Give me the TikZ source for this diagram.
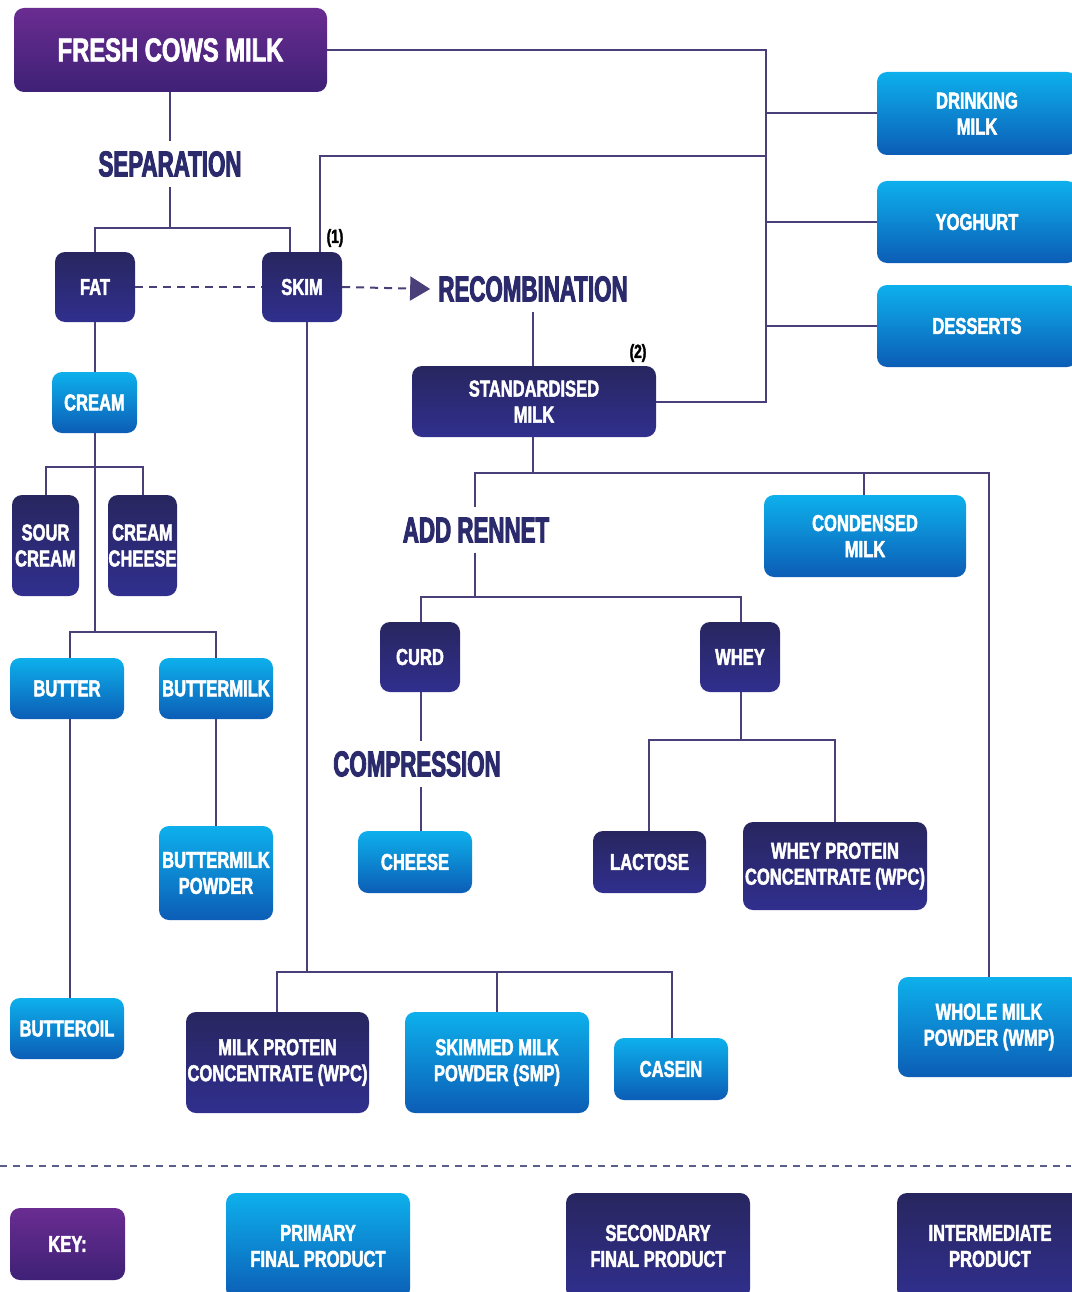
\documentclass[tikz,border=0pt]{standalone}
\usepackage{fontspec}
\usetikzlibrary{arrows.meta}
\newfontfamily\boxfam{Liberation Sans Bold}[FakeStretch=0.72, FakeBold=2]
\newfontfamily\lblfam{Liberation Sans Bold}[FakeStretch=0.62, FakeBold=2.5]
\definecolor{bluetop}{HTML}{0DB0EC}
\definecolor{bluebot}{HTML}{0C5DB5}
\definecolor{navytop}{HTML}{28265F}
\definecolor{navybot}{HTML}{302F8E}
\definecolor{purtop}{HTML}{6A2C91}
\definecolor{purbot}{HTML}{3E2176}
\definecolor{linecol}{HTML}{4A3F78}
\definecolor{navytext}{HTML}{2A2A6C}
\definecolor{sepcol}{HTML}{5A5F8A}
\tikzset{
  box/.style={rounded corners=10pt, text=white, align=center, inner sep=0pt,
    font=\boxfam\fontsize{23}{26}\selectfont},
  pbox/.style={box, top color=bluetop, bottom color=bluebot},
  dbox/.style={box, top color=navytop, bottom color=navybot},
  kbox/.style={box, top color=purtop, bottom color=purbot},
  lbl/.style={text=navytext, inner xsep=2pt, inner ysep=10pt,
    font=\lblfam\fontsize{36}{40}\selectfont},
  note/.style={text=black, inner sep=0pt, font=\boxfam\fontsize{19}{20}\selectfont},
  conn/.style={draw=linecol, line width=2pt},
  dconn/.style={conn, dash pattern=on 8pt off 6pt},
}
\begin{document}
\begin{tikzpicture}[x=1pt,y=-1pt]
\useasboundingbox[fill=white] (0,0) rectangle (1071,1292);

% main nodes
\node[kbox, minimum width=313pt, minimum height=84pt, font=\boxfam\fontsize{33}{36}\selectfont] (fresh) at (170.5,50) {FRESH COWS MILK};
\node[lbl] (sep) at (170,164) {SEPARATION};
\node[dbox, minimum width=80pt, minimum height=70pt] (fat) at (95,287) {FAT};
\node[dbox, minimum width=80pt, minimum height=70pt] (skim) at (302,287) {SKIM};
\node[note] (n1) at (335,238) {(1)};
\node[lbl, inner xsep=8pt] (rec) at (533,289) {RECOMBINATION};
\node[dbox, minimum width=244pt, minimum height=71pt] (std) at (534,401.5) {STANDARDISED\\MILK};
\node[note] (n2) at (638,353) {(2)};

\node[pbox, minimum width=85pt, minimum height=61pt] (cream) at (94.5,402.5) {CREAM};
\node[dbox, minimum width=67pt, minimum height=101pt] (sour) at (45.5,545.5) {SOUR\\CREAM};
\node[dbox, minimum width=69pt, minimum height=101pt] (ccheese) at (142.5,545.5) {CREAM\\CHEESE};
\node[pbox, minimum width=114pt, minimum height=61pt] (butter) at (67,688.5) {BUTTER};
\node[pbox, minimum width=114pt, minimum height=61pt] (bmilk) at (216,688.5) {BUTTERMILK};
\node[pbox, minimum width=114pt, minimum height=94pt] (bmpow) at (216,873) {BUTTERMILK\\POWDER};
\node[pbox, minimum width=114pt, minimum height=61pt] (boil) at (67,1028.5) {BUTTEROIL};

\node[dbox, minimum width=183pt, minimum height=101pt] (mpc) at (277.5,1062.5) {MILK PROTEIN\\CONCENTRATE (WPC)};
\node[pbox, minimum width=184pt, minimum height=101pt] (smp) at (497,1062.5) {SKIMMED MILK\\POWDER (SMP)};
\node[pbox, minimum width=114pt, minimum height=62pt] (casein) at (671,1069) {CASEIN};

\node[pbox, minimum width=200pt, minimum height=83pt] (drink) at (977,113.5) {DRINKING\\MILK};
\node[pbox, minimum width=200pt, minimum height=82pt] (yog) at (977,222) {YOGHURT};
\node[pbox, minimum width=200pt, minimum height=82pt] (dess) at (977,326) {DESSERTS};

\node[lbl] (rennet) at (476,530) {ADD RENNET};
\node[pbox, minimum width=202pt, minimum height=82pt] (cond) at (865,536) {CONDENSED\\MILK};
\node[dbox, minimum width=80pt, minimum height=70pt] (curd) at (420,657) {CURD};
\node[dbox, minimum width=80pt, minimum height=70pt] (whey) at (740,657) {WHEY};
\node[lbl] (comp) at (417,764) {COMPRESSION};
\node[pbox, minimum width=114pt, minimum height=62pt] (cheese) at (415,862) {CHEESE};
\node[dbox, minimum width=113pt, minimum height=62pt] (lact) at (649.5,862) {LACTOSE};
\node[dbox, minimum width=184pt, minimum height=88pt] (wpc) at (835,866) {WHEY PROTEIN\\CONCENTRATE (WPC)};
\node[pbox, minimum width=182pt, minimum height=100pt] (wmp) at (989,1027) {WHOLE MILK\\POWDER (WMP)};

% key
\node[kbox, minimum width=115pt, minimum height=72pt] (key) at (67.5,1244) {KEY:};
\node[pbox, minimum width=184pt, minimum height=106pt] (kprim) at (318,1246) {PRIMARY\\FINAL PRODUCT};
\node[dbox, minimum width=184pt, minimum height=106pt] (ksec) at (658,1246) {SECONDARY\\FINAL PRODUCT};
\node[dbox, minimum width=186pt, minimum height=106pt] (kint) at (990,1246) {INTERMEDIATE\\PRODUCT};

% junction coordinates
\coordinate (busx) at (766,0);
\coordinate (topbus) at (766,156);
\coordinate (sepj) at (170,228);
\coordinate (cj1) at (95,467);
\coordinate (cj2) at (95,632);
\coordinate (sj) at (307,972);
\coordinate (stj) at (533,473);
\coordinate (rj) at (475,597);
\coordinate (wj) at (741,740);
\coordinate (sepl) at (0,1166);
\coordinate (sepr) at (1071,1166);

% connectors
\draw[conn] (fresh.east) -- (fresh.east -| busx) |- (std.east);
\draw[conn] (drink.west) -- (drink.west -| busx);
\draw[conn] (yog.west) -- (yog.west -| busx);
\draw[conn] (dess.west) -- (dess.west -| busx);
\draw[conn] ([xshift=18pt]skim.north) |- (topbus);

\draw[conn] (sep.north |- fresh.south) -- (sep.north);
\draw[conn] (sep.south) -- (sepj);
\draw[conn] (fat.north) |- (sepj) -| ([xshift=-12pt]skim.north);
\draw[dconn] (fat.east) -- (skim.west);
\draw[dconn, -{Triangle[length=20pt,width=24pt]}] (skim.east) -- (rec.west);
\draw[conn] (rec.south) -- (rec.south |- std.north);

\draw[conn] (fat.south) -- (fat.south |- cream.north);
\draw[conn] (cream.south -| cj2) -- (cj2);
\draw[conn] (sour.north) |- (cj1) -| (ccheese.north);
\draw[conn] ([xshift=3pt]butter.north) |- (cj2) -| (bmilk.north);
\draw[conn] ([xshift=3pt]butter.south) -- ([xshift=3pt]boil.north);
\draw[conn] (bmilk.south) -- (bmpow.north);

\draw[conn] ([xshift=5pt]skim.south) -- (sj);
\draw[conn] ([xshift=-1pt]mpc.north) |- (sj) -| ([xshift=1pt]casein.north);
\draw[conn] (smp.north) -- (smp.north |- sj);

\draw[conn] (stj |- std.south) -- (stj);
\draw[conn] (rennet.north -| rj) |- (stj) -| (wmp.north);
\draw[conn] ([xshift=-1pt]cond.north) -- ([xshift=-1pt]cond.north |- stj);
\draw[conn] (rennet.south -| rj) -- (rj);
\draw[conn] ([xshift=1pt]curd.north) |- (rj) -| ([xshift=1pt]whey.north);

\draw[conn] ([xshift=1pt]curd.south) -- ([xshift=1pt]curd.south |- comp.north);
\draw[conn] ([xshift=1pt]curd.south |- comp.south) -- ([xshift=1pt]curd.south |- cheese.north);
\draw[conn] ([xshift=1pt]whey.south) -- (wj);
\draw[conn] ([xshift=-0.5pt]lact.north) |- (wj) -| (wpc.north);

\draw[draw=sepcol, line width=1.8pt, dash pattern=on 7pt off 6pt] (sepl) -- (sepr);
\end{tikzpicture}
\end{document}
